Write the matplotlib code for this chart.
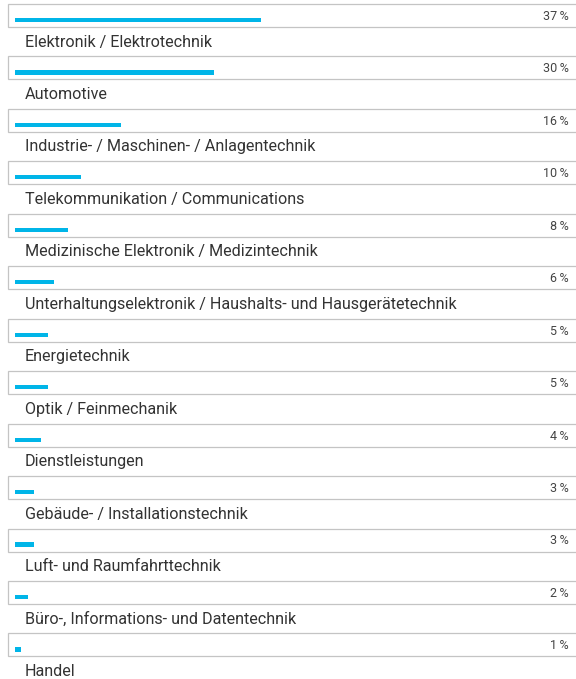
import numpy as np
import matplotlib.pyplot as plt
from matplotlib.patches import Rectangle
import matplotlib.transforms as mtransforms

categories = ['Elektronik / Elektrotechnik', 'Automotive',
              'Industrie- / Maschinen- / Anlagentechnik',
              'Telekommunikation / Communications',
              'Medizinische Elektronik / Medizintechnik',
              'Unterhaltungselektronik / Haushalts- und Hausgerätetechnik',
              'Energietechnik', 'Optik / Feinmechanik', 'Dienstleistungen',
              'Gebäude- / Installationstechnik', 'Luft- und Raumfahrttechnik',
              'Büro-, Informations- und Datentechnik', 'Handel']
values = [37, 30, 16, 10, 8, 6, 5, 5, 4, 3, 3, 2, 1]

plt.rcParams['font.family'] = ['Roboto', 'DejaVu Sans']

W, H = 576, 679
fig = plt.figure(figsize=(W / 100, H / 100), dpi=100)
ax = fig.add_axes([0, 0, 1, 1])
# x in percent: 0 % sits at pixel 14.5, 6.65 px per percent
px_per = 6.65
x0 = 14.5
ax.set_xlim(-x0 / px_per, (W - x0) / px_per)
ax.set_ylim(H, 0)
ax.axis('off')

blend = mtransforms.blended_transform_factory(ax.transAxes, ax.transData)
pitch = 52.45
box_h = 23
for i, (cat, val) in enumerate(zip(categories, values)):
    top = 4 + i * pitch
    ax.add_patch(Rectangle((8 / W, top), 1.0, box_h, transform=blend,
                           facecolor='white', edgecolor='#c4c4c4', lw=0.9,
                           clip_on=False))
    ax.barh(top + 16, val, height=4.2, left=0, color='#00b5e8')
    ax.text(569 / W, top + 12.5, f'{val}\u2009%', transform=blend,
            ha='right', va='center', fontsize=9, color='#444444')
    ax.text(25 / W, top + 38, cat, transform=blend, ha='left', va='center',
            fontsize=11.6, color='#333333')

fig.savefig('out.png', dpi=100)
